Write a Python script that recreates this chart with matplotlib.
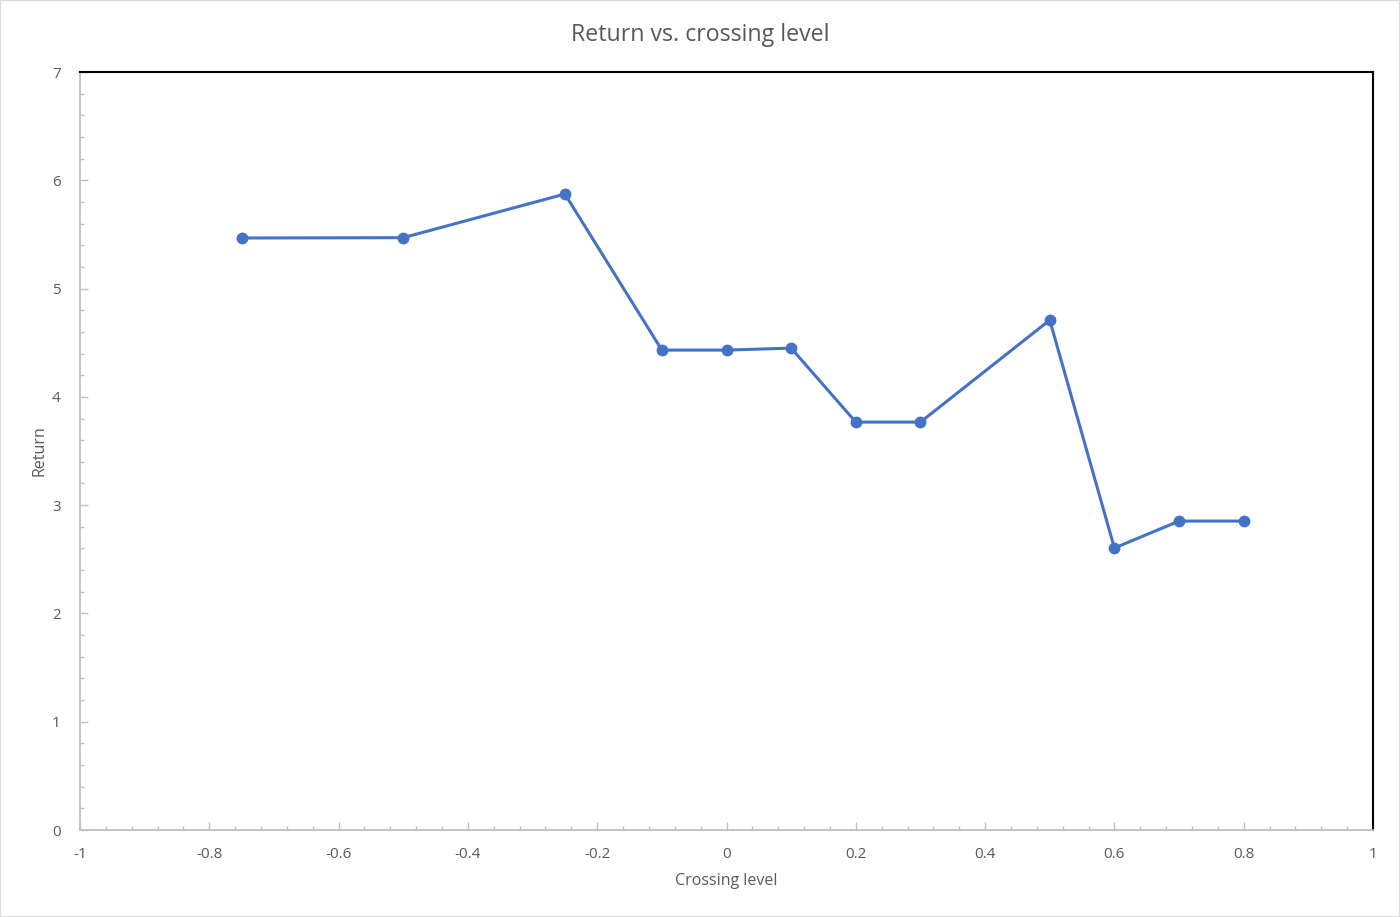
import matplotlib
matplotlib.use("Agg")
import matplotlib.pyplot as plt
from matplotlib.ticker import MultipleLocator
from matplotlib.patches import Rectangle

plt.rcParams["font.family"] = ["Open Sans", "DejaVu Sans"]

crossing = [-0.75, -0.5, -0.25, -0.1, 0.0, 0.1, 0.2, 0.3, 0.5, 0.6, 0.7, 0.8]
returns = [5.467, 5.47, 5.873, 4.432, 4.432, 4.45, 3.767, 3.767, 4.709, 2.604, 2.853, 2.853]

TXT = "#595959"
AXIS = "#bfbfbf"
BLUE = "#4472c4"

fig = plt.figure(figsize=(14, 9.17), dpi=100)
ax = fig.add_axes([80 / 1400, 87 / 917, 1293 / 1400, 758 / 917])

ax.plot(crossing, returns, color=BLUE, lw=2.2, marker="o", ms=7.5,
        markerfacecolor=BLUE, markeredgecolor=BLUE, zorder=3, clip_on=False)

ax.set_xlim(-1, 1)
ax.set_ylim(0, 7)
ax.xaxis.set_major_locator(MultipleLocator(0.2))
ax.xaxis.set_minor_locator(MultipleLocator(0.04))
ax.yaxis.set_major_locator(MultipleLocator(1))
ax.yaxis.set_minor_locator(MultipleLocator(0.2))
ax.xaxis.set_major_formatter(lambda v, p: f"{v:g}" if abs(v) > 1e-9 else "0")

ax.tick_params(axis="both", which="both", direction="in", colors=AXIS,
               labelcolor=TXT, labelsize=11)
ax.tick_params(axis="both", which="major", length=6, width=1)
ax.tick_params(axis="both", which="minor", length=3, width=1)
ax.tick_params(axis="x", pad=12)
ax.tick_params(axis="y", pad=14)

for s in ("left", "bottom"):
    ax.spines[s].set_color(AXIS)
    ax.spines[s].set_linewidth(1.3)
for s in ("top", "right"):
    ax.spines[s].set_color("black")
    ax.spines[s].set_linewidth(1.5)

ax.set_xlabel("Crossing level", color=TXT, fontsize=11.5, labelpad=8)
ax.set_ylabel("Return", color=TXT, fontsize=11.5, labelpad=3)
fig.text(0.5, 1 - 35 / 917, "Return vs. crossing level", color=TXT,
         fontsize=16.7, ha="center", va="center")

fig.patches.append(Rectangle((0, 0), 1, 1, transform=fig.transFigure,
                             fill=False, edgecolor="#d9d9d9", lw=1.5))

fig.savefig("out.png", dpi=100)
